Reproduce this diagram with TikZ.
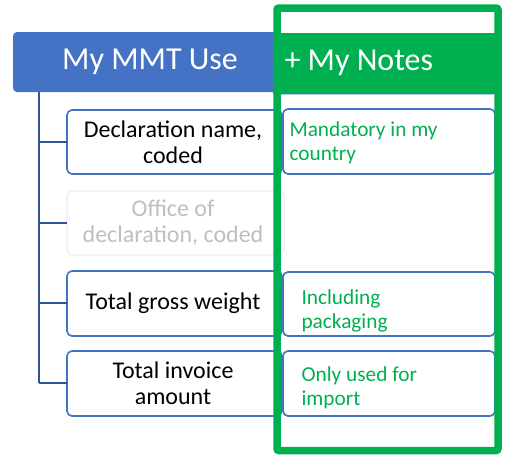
\documentclass[tikz,border=0pt]{standalone}
\usepackage{fontspec}
\setmainfont{Carlito}
\definecolor{hdrblue}{HTML}{4472C4}
\definecolor{treeblue}{HTML}{2F5597}
\definecolor{notegreen}{HTML}{00B050}
\definecolor{fadetext}{HTML}{BFBFBF}
\definecolor{fadeline}{HTML}{EDEDED}
\tikzset{
  leftbox/.style={draw=hdrblue, line width=1.6pt, fill=white, rounded corners=5pt},
  fadebox/.style={draw=fadeline, line width=1.2pt, fill=white, rounded corners=5pt},
  notebox/.style={draw=hdrblue, line width=1.6pt, fill=white, rounded corners=5pt},
  lefttext/.style={align=center, font=\fontsize{24}{26}\selectfont, text=black},
  notetext/.style={align=left, anchor=north west, font=\fontsize{21.3}{24}\selectfont, text=notegreen},
  tree/.style={draw=treeblue, line width=2.2pt},
}
\begin{document}
\begin{tikzpicture}[x=1pt,y=-1pt]
\useasboundingbox (0,0) rectangle (505,455);
% tree
\coordinate (t0) at (39,92);
\coordinate (t4) at (39,383);
\draw[tree] (t0) -- (t4);
% blue header
\fill[hdrblue, rounded corners=4pt] (13,32) rectangle (282,92);
\node[text=white, font=\fontsize{32}{36}\selectfont] (hdr) at (150,62) {My MMT Use};
% left boxes
\draw[leftbox] (67,110) rectangle (282,174);
\node[lefttext] (b1) at (173,142) {Declaration name,\\coded};
\draw[fadebox] (67,191) rectangle (284,255);
\node[lefttext, text=fadetext] (b2) at (173,223) {Office of\\declaration, coded};
\draw[leftbox] (67,271) rectangle (282,336);
\node[lefttext] (b3) at (173,303.5) {Total gross weight};
\draw[leftbox] (67,351) rectangle (282,416);
\node[lefttext] (b4) at (173,383.5) {Total invoice\\amount};
\coordinate (c1) at (67,142);
\coordinate (c2) at (67,223);
\coordinate (c3) at (67,303);
\coordinate (c4) at (67,383);
\draw[tree] (39,142) -- (c1);
\draw[tree] (39,223) -- (c2);
\draw[tree] (39,303) -- (c3);
\draw[tree] (t4) -- (c4);
% green header
\fill[notegreen] (273,33) rectangle (502,94);
\draw[hdrblue!40, line width=0.6pt] (281,94.5) -- (494,94.5);
\node[text=white, anchor=west, font=\fontsize{32}{36}\selectfont] (nh) at (281,63) {+ My Notes};
% note boxes
\draw[notebox] (283,109) rectangle (495,174);
\node[notetext] (n1) at (286,118) {Mandatory in my\\country};
\draw[notebox] (283,272) rectangle (495,336);
\node[notetext] (n2) at (298,286) {Including\\packaging};
\draw[notebox] (283,351) rectangle (495,416);
\node[notetext] (n3) at (298,363) {Only used for\\import};
% green frame
\draw[notegreen, line width=7.5pt, rounded corners=2pt] (277,8) rectangle (498,450.5);
\end{tikzpicture}
\end{document}
